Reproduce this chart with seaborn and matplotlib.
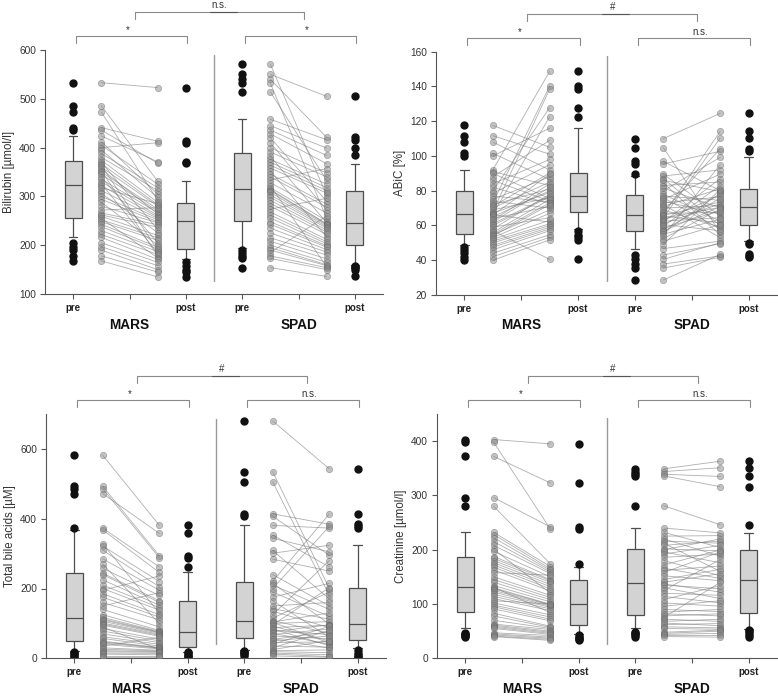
import numpy as np
import pandas as pd
import matplotlib
matplotlib.use("Agg")
import matplotlib.pyplot as plt
import seaborn as sns

sns.set_theme(style="white")
plt.rcParams["font.family"] = ["Liberation Sans", "DejaVu Sans"]

# ---------------- data (patient order: each pre value paired with its post value) -------------
bili_mars_pre = [533, 486, 473, 441, 436, 424, 412, 405, 400, 395, 388, 380, 374, 370, 367, 364, 360, 356,
                 353, 350, 345, 340, 335, 330, 326, 322, 318, 312, 306, 300, 294, 288, 280, 272, 266, 262,
                 259, 255, 252, 248, 243, 238, 230, 222, 216, 205, 197, 190, 178, 168]
bili_mars_post = [523, 331, 292, 413, 368, 371, 305, 325, 410, 298, 318, 312, 288, 232, 283, 190, 280, 264,
                  178, 274, 270, 205, 267, 261, 184, 258, 285, 255, 226, 252, 248, 200, 246, 277, 242, 237,
                  220, 174, 215, 210, 196, 192, 187, 181, 171, 165, 158, 150, 145, 135]
bili_spad_pre = [571, 550, 540, 532, 514, 458, 445, 436, 428, 420, 410, 400, 391, 382, 376, 370, 364, 358,
                 352, 346, 340, 334, 328, 322, 318, 314, 312, 308, 303, 298, 292, 286, 280, 274, 268, 262,
                 256, 248, 243, 235, 225, 215, 208, 200, 195, 190, 185, 178, 173, 154]
bili_spad_post = [302, 505, 421, 255, 333, 416, 399, 384, 367, 290, 272, 348, 340, 246, 325, 318, 312, 307,
                  217, 284, 278, 357, 266, 156, 250, 244, 243, 241, 238, 235, 231, 227, 222, 296, 212, 207,
                  203, 199, 196, 191, 186, 180, 172, 165, 160, 158, 260, 154, 150, 136]

abic_mars_pre = [117.6, 111.7, 108, 101.5, 100, 92, 91, 90, 88, 86, 84, 82, 80, 78.5, 77, 75, 74, 73, 72, 71,
                 70, 69, 68, 67, 66.5, 66.2, 66, 65, 64, 63, 62, 61, 60, 59, 58, 57, 56, 55, 54.5, 54, 53, 52,
                 51, 50, 48.5, 47.5, 46, 44, 42, 40]
abic_mars_post = [105, 101, 92, 86.5, 116, 148.7, 83, 75.5, 109, 74, 98, 72.5, 127.8, 95, 73.5, 88, 70, 140.2,
                  81, 90.2, 85, 76, 138.5, 79, 122.6, 62, 89.5, 80, 71, 84, 82, 77, 76.5, 64.5, 78, 40.5, 75,
                  73, 69, 72, 67, 63, 61, 60, 59, 58, 57, 54.7, 53.2, 51.7]
abic_spad_pre = [110, 104.8, 96.9, 95.4, 89.6, 88.5, 87, 86, 84.5, 83, 81.5, 80, 78, 77, 76, 75, 74, 73, 72, 71,
                 70, 69, 68, 67, 66.2, 65.8, 65.5, 64.5, 64, 63, 62.5, 62, 61, 60.5, 59.5, 58.5, 57.5, 56.8,
                 56, 55, 54, 52.5, 51, 49, 46.7, 43, 40.5, 37.8, 35.5, 28.6]
abic_spad_post = [124.5, 56, 80, 102.7, 65.5, 92, 60, 79.5, 54.5, 85, 70.2, 99.2, 62.5, 74.5, 58, 89.5, 66.5,
                  76.5, 53, 81.1, 71.5, 59, 104.2, 67.5, 114.2, 73.5, 61.5, 110.3, 70.5, 77.5, 64.5, 87, 72.5,
                  57, 83, 68.5, 75.5, 70.8, 78.5, 63.5, 95, 69.5, 60.5, 80.7, 51, 49.5, 50.1, 42.5, 41.7, 43.4]

tba_mars_pre = [582, 493, 486, 472, 373, 368, 328, 322, 310, 285, 270, 258, 244, 240, 225, 210, 200, 195, 185,
                175, 160, 150, 140, 125, 117, 113, 110, 106, 101, 98, 95, 90, 85, 78, 70, 62, 57, 49, 47, 44,
                40, 35, 30, 26, 22, 19, 15, 12, 8, 5]
tba_mars_post = [381, 294, 288, 358, 262, 246, 130, 220, 205, 195, 100, 180, 165, 160, 152, 145, 138, 236, 125,
                 118, 110, 188, 90, 80, 77, 75, 74, 72, 69, 66, 63, 25, 55, 50, 45, 40, 35, 31, 30, 29, 27, 60,
                 23, 21, 19, 17, 14, 10, 8, 5]
tba_spad_pre = [680, 535, 506, 414, 407, 381, 353, 344, 309, 301, 284, 240, 220.5, 215, 210, 200, 190, 175, 165,
                150, 142, 135, 125, 115, 108, 104, 103, 100, 96, 92, 88, 84, 80, 76, 72, 68, 64, 56, 54, 50, 45,
                40, 35, 30, 25, 22, 19, 15, 12, 7]
tba_spad_post = [543, 200, 180, 384, 295, 373, 262, 305, 170, 324, 250, 150, 414, 98, 140, 378, 120, 215, 60,
                 160, 112, 88, 280, 190, 72, 130, 44, 105, 202.5, 50, 95, 36, 68, 96, 40, 84, 56, 29, 76, 64,
                 47, 92, 32, 80, 51, 24, 16, 10, 5, 3]

crea_mars_pre = [403, 398, 372, 296, 280, 232, 228, 222, 215, 208, 201, 197, 187.5, 184, 180, 176, 172, 168, 163,
                 158, 150, 145, 140, 134, 131, 130, 128, 125, 122, 118, 114, 110, 106, 102, 98, 95, 91, 83, 78,
                 70, 63, 61, 59, 57, 55, 47, 45, 43, 41, 40]
crea_mars_post = [395, 238, 323, 242, 174, 169, 165, 162, 159, 156, 120, 150, 145, 143, 140, 136, 132, 128, 124,
                  153, 116, 112, 108, 104, 84, 99.5, 99, 98, 96, 94, 91, 88, 100, 80, 76, 72, 69, 59, 57, 55, 53,
                  50, 48, 46, 44, 42, 39, 37, 35, 33]
crea_spad_pre = [349, 344, 339, 336, 281, 240, 232, 225, 220, 216, 212, 208, 201.5, 200, 196, 192, 186, 180, 172,
                 166, 162, 158, 152, 145, 140, 137, 135, 130, 125, 120, 114, 108, 102, 96, 90, 85, 82, 78, 75,
                 72, 68, 65, 62, 58, 55, 48, 46, 44, 42, 40]
crea_spad_post = [363, 351, 335, 316, 246, 231, 204, 226, 188, 212, 160, 216, 198, 220, 176, 208, 192, 152, 199.5,
                  147, 170, 196, 143, 164, 156, 122, 128, 110, 182, 116, 102, 134, 96, 106, 86, 90, 78, 82, 140,
                  68, 72, 60, 64, 56, 53.5, 52, 50, 46, 42, 39]

ylabels = ["Bilirubin [µmol/l]", "ABiC [%]", "Total bile acids [µM]", "Creatinine [µmol/l]"]
ylims = [(100, 600), (20, 160), (0, 700), (0, 450)]
yticks = [[100, 200, 300, 400, 500, 600], [20, 40, 60, 80, 100, 120, 140, 160], [0, 200, 400, 600],
          [0, 100, 200, 300, 400]]
divider = [(127, 590), (28, 157.5), (41, 686), (26, 442)]
sig_mars = ["*", "*", "*", "*"]
sig_spad = ["*", "n.s.", "n.s.", "n.s."]
sig_between = ["n.s.", "#", "#", "#"]
xtick_labels = ["pre", "", "post", "pre", "", "post"]
group_names = ["MARS", "SPAD"]

panels = [
    (bili_mars_pre, bili_mars_post, bili_spad_pre, bili_spad_post),
    (abic_mars_pre, abic_mars_post, abic_spad_pre, abic_spad_post),
    (tba_mars_pre, tba_mars_post, tba_spad_pre, tba_spad_post),
    (crea_mars_pre, crea_mars_post, crea_spad_pre, crea_spad_post),
]

W, H = 778, 697
fig = plt.figure(figsize=(W / 100, H / 100), dpi=100)
rects = [
    (45 / W, 1 - 294 / H, 338 / W, 244 / H),
    (436 / W, 1 - 295 / H, 341 / W, 243.3 / H),
    (46 / W, 1 - 658.3 / H, 340 / W, 244.3 / H),
    (437 / W, 1 - 658.3 / H, 340 / W, 244.3 / H),
]

edge = "#4d4d4d"
for k, (mpre, mpost, spre, spost) in enumerate(panels):
    ax = fig.add_axes(rects[k])

    # paired points / lines
    rows = []
    for i, (a, b) in enumerate(zip(mpre, mpost)):
        rows.append(("M%d" % i, 1, a))
        rows.append(("M%d" % i, 3, b))
    for i, (a, b) in enumerate(zip(spre, spost)):
        rows.append(("S%d" % i, 7, a))
        rows.append(("S%d" % i, 9, b))
    pair_df = pd.DataFrame(rows, columns=["pid", "x", "value"])

    sns.lineplot(data=pair_df, x="x", y="value", units="pid", estimator=None, color="#7a7a7a",
                 linewidth=0.6, alpha=0.6, legend=False, ax=ax, zorder=2)
    sns.scatterplot(data=pair_df, x="x", y="value", color="#888888", alpha=0.5, s=21,
                    edgecolor="#606060", linewidth=0.5, legend=False, ax=ax, zorder=3)

    box_df = pd.DataFrame({
        "pos": [0] * len(mpre) + [4] * len(mpost) + [6] * len(spre) + [10] * len(spost),
        "value": list(mpre) + list(mpost) + list(spre) + list(spost),
    })
    sns.boxplot(data=box_df, x="pos", y="value", native_scale=True, whis=(10, 90), width=0.3,
                color="#d3d3d3", saturation=1, linecolor=edge, linewidth=0.9,
                flierprops=dict(marker="o", markerfacecolor="#111111", markeredgecolor="#111111",
                                markersize=5.0), ax=ax)

    ax.set_xlim(-1, 11)
    ax.set_ylim(*ylims[k])
    ax.set_yticks(yticks[k])
    ax.set_xticks([0, 2, 4, 6, 8, 10])
    ax.set_xticklabels(xtick_labels)
    ax.set_xlabel("")
    ax.set_ylabel(ylabels[k], fontsize=8.3, color="#333333")
    ax.yaxis.set_label_coords(-0.088, 0.5)
    for side in ["top", "right"]:
        ax.spines[side].set_visible(False)
    for side in ["left", "bottom"]:
        ax.spines[side].set_color("#555555")
        ax.spines[side].set_linewidth(0.8)
    ax.tick_params(axis="both", direction="out", length=3.5, width=0.8, color="#555555",
                   bottom=True, left=True, labelsize=7.3, labelcolor="#333333", pad=3)
    for lbl in ax.get_xticklabels():
        lbl.set_fontweight("bold")
        lbl.set_fontsize(7)
        lbl.set_color("#222222")

    tr = ax.get_xaxis_transform()
    for xg, name in zip([2, 8], group_names):
        ax.text(xg, -0.125, name, transform=tr, ha="center", va="center", fontsize=9.8,
                fontweight="bold", color="#111111")

    # divider
    ax.plot([5, 5], list(divider[k]), color="#9a9a9a", lw=1.0, zorder=1)

    # significance brackets
    bc = "#8a8a8a"
    y_s, y_sl = 1.057, 1.029
    for x0, x1 in [(0.1, 4.05), (6.1, 10.05)]:
        ax.plot([x0, x0, x1, x1], [y_sl, y_s, y_s, y_sl], color=bc, lw=0.8, transform=tr, clip_on=False)
    ax.text(1.95, 1.062, sig_mars[k], transform=tr, ha="center", va="bottom", fontsize=7,
            color="#333333")
    ax.text(8.3, 1.062, sig_spad[k], transform=tr, ha="center", va="bottom", fontsize=7,
            color="#333333")
    y_b, y_bl = 1.155, 1.127
    ax.plot([2.2, 2.2, 8.2, 8.2], [y_bl, y_b, y_b, y_bl], color=bc, lw=0.8, transform=tr, clip_on=False)
    ax.plot([4.85, 5.8], [y_b, y_b], color="#555555", lw=0.8, transform=tr, clip_on=False)
    ax.text(5.2, 1.165, sig_between[k], transform=tr, ha="center", va="bottom", fontsize=7,
            color="#333333")

fig.savefig("out.png", dpi=100)
